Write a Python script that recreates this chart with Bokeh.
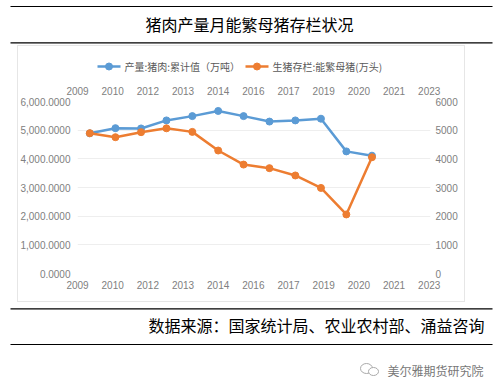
from bokeh.plotting import figure
from bokeh.models import (Range1d, LinearAxis, FixedTicker, NumeralTickFormatter)
from bokeh.layouts import column
from bokeh.core.properties import value
from bokeh.embed import file_html
from bokeh.resources import INLINE

# ---------------- data ----------------
years = [2009, 2010, 2011, 2012, 2013, 2014, 2015, 2016, 2017, 2018, 2019, 2020]
# positions of the yearly points on the chart's date axis (decimal years)
x_dates = [2009.49, 2010.51, 2011.53, 2012.54, 2013.57, 2014.60,
           2015.61, 2016.64, 2017.67, 2018.69, 2019.70, 2020.72]
pork_output = [4890, 5070, 5060, 5340, 5490, 5670, 5490, 5300, 5340, 5400, 4260, 4110]
sow_stock = [4895, 4755, 4930, 5065, 4940, 4290, 3800, 3675, 3420, 2985, 2060, 4055]

x_ticks = [2009.0, 2010.4, 2011.8, 2013.2, 2014.6, 2016.0, 2017.4, 2018.8, 2020.2, 2021.6, 2023.0]
x_tick_labels = ["2009", "2010", "2012", "2013", "2014", "2016", "2017", "2019", "2020", "2021", "2023"]
y_ticks = [0, 1000, 2000, 3000, 4000, 5000, 6000]

title_text = "猪肉产量月能繁母猪存栏状况"
series_names = ["产量:猪肉:累计值（万吨）", "生猪存栏:能繁母猪(万头)"]
source_text = "数据来源：国家统计局、农业农村部、涌益咨询"
brand_text = "美尔雅期货研究院"

BLUE = "#5b9bd5"
ORANGE = "#ed7d31"
TICK_COLOR = "#808080"
BOX_COLOR = "#e6e6e6"
CJK = "Noto Sans CJK SC"
NUM = "Liberation Sans"

W = 497


def deco_fig(h, transparent=False):
    f = figure(width=W, height=h, x_range=Range1d(0, W), y_range=Range1d(h, 0),
               min_border=0, toolbar_location=None, output_backend="svg",
               x_axis_location=None, y_axis_location=None)
    f.grid.visible = False
    f.outline_line_color = None
    if transparent:
        f.border_fill_alpha = 0
        f.background_fill_alpha = 0
    return f


# ---------------- title strip ----------------
pt = deco_fig(45)
pt.segment(x0=[10, 10], y0=[6, 42.3], x1=[492, 492], y1=[6, 42.3],
           line_color="black", line_width=1.2)
pt.text(x=[249], y=[23.3], text=[title_text], text_align="center",
        text_baseline="middle", text_font=value(CJK), text_font_size="16px",
        text_color="black")

# ---------------- legend strip (top of the chart box) ----------------
pl = deco_fig(33, transparent=True)
sw_colors = [BLUE, ORANGE]
pl.segment(x0=[97, 245], y0=[21, 21], x1=[120, 268], y1=[21, 21],
           line_color=sw_colors, line_width=2.5)
pl.scatter(x=[108.5, 256.5], y=[21, 21], size=7, fill_color=sw_colors, line_color=sw_colors)
pl.text(x=[124, 272], y=[21, 21], text=series_names, text_align="left",
        text_baseline="middle", text_font=value(CJK), text_font_size="10px",
        text_color="#595959")

# ---------------- chart ----------------
pc = figure(width=W, height=224, x_range=Range1d(2009, 2023.05),
            y_range=Range1d(0, 6000),
            min_border_left=77, min_border_right=67, min_border_top=23,
            min_border_bottom=29, toolbar_location=None, output_backend="svg",
            x_axis_location="below", y_axis_location="left")
pc.extra_y_ranges = {"right": Range1d(0, 6000)}
pc.outline_line_color = None
pc.border_fill_alpha = 0
pc.background_fill_alpha = 0
pc.xgrid.visible = False
pc.ygrid.grid_line_color = "#eeeeee"
pc.ygrid.grid_line_width = 1

overrides = {t: lab for t, lab in zip(x_ticks, x_tick_labels)}


def style_axis(ax, standoff):
    ax.axis_line_color = None
    ax.major_tick_line_color = None
    ax.minor_tick_line_color = None
    ax.major_tick_in = 0
    ax.major_tick_out = 0
    ax.major_label_standoff = standoff
    ax.major_label_text_font = NUM
    ax.major_label_text_font_size = "10px"
    ax.major_label_text_color = TICK_COLOR


bx = pc.xaxis[0]
bx.ticker = FixedTicker(ticks=x_ticks)
bx.major_label_overrides = overrides
style_axis(bx, 7)

ly = pc.yaxis[0]
ly.ticker = FixedTicker(ticks=y_ticks)
ly.formatter = NumeralTickFormatter(format="0,0.0000")
style_axis(ly, 7)

ry = LinearAxis(y_range_name="right", ticker=FixedTicker(ticks=y_ticks),
                formatter=NumeralTickFormatter(format="0"))
style_axis(ry, 5)
pc.add_layout(ry, "right")

tx = LinearAxis(ticker=FixedTicker(ticks=x_ticks), major_label_overrides=overrides)
style_axis(tx, 7)
pc.add_layout(tx, "above")

pc.line(x_dates, pork_output, line_color=BLUE, line_width=2.5)
pc.scatter(x_dates, pork_output, size=7, fill_color=BLUE, line_color=BLUE)
pc.line(x_dates, sow_stock, line_color=ORANGE, line_width=2.5, y_range_name="right")
pc.scatter(x_dates, sow_stock, size=7, fill_color=ORANGE, line_color=ORANGE,
           y_range_name="right")

# wrap each plot separately so the layout does not align their frames
box = column(column(pl), column(pc))
g = "linear-gradient({c},{c})".format(c=BOX_COLOR)
box.styles = {
    "background-image": ", ".join([g, g, g, g]),
    "background-size": "1px 257px, 1px 257px, 448px 1px, 448px 1px",
    "background-position": "17px 0px, 464px 0px, 17px 0px, 17px 256px",
    "background-repeat": "no-repeat",
}

# ---------------- source strip ----------------
pb = deco_fig(90)
pb.segment(x0=[10, 10], y0=[6.3, 42], x1=[492, 492], y1=[6.3, 42],
           line_color="black", line_width=1.2)
pb.text(x=[484], y=[22], text=[source_text], text_align="right",
        text_baseline="middle", text_font=value(CJK), text_font_size="16px",
        text_color="black")
pb.ellipse(x=[366, 373], y=[66, 69], width=[12, 10], height=[10, 8],
           fill_color="white", line_color="#aaaaaa", line_width=1)
pb.text(x=[483], y=[68], text=[brand_text], text_align="right",
        text_baseline="middle", text_font=value(CJK), text_font_size="12px",
        text_color="#777777")

layout = column(column(pt), box, column(pb))

open("out.html", "w").write(file_html(layout, INLINE))
